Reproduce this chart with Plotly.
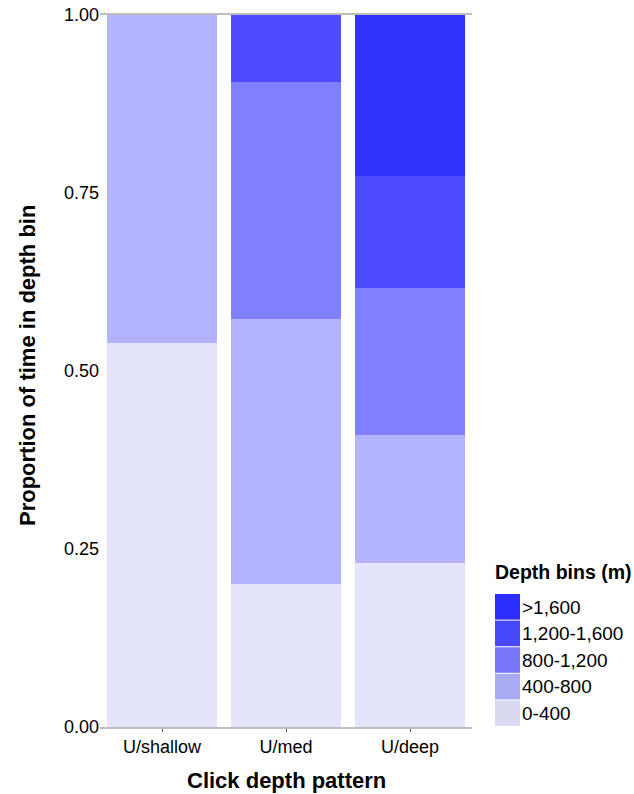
import plotly.graph_objects as go

categories = ["U/shallow", "U/med", "U/deep"]
bins = ["0-400", "400-800", "800-1,200", "1,200-1,600", ">1,600"]
colors = ["#e4e4fc", "#b3b3ff", "#8080ff", "#4d4dff", "#3232ff"]
legend_colors = ["#d9d9f2", "#aaaaf5", "#7878f8", "#4848fb", "#2d2dfb"]

v_0_400 = [0.539, 0.201, 0.230]
v_400_800 = [0.461, 0.372, 0.180]
v_800_1200 = [0.0, 0.333, 0.207]
v_1200_1600 = [0.0, 0.094, 0.157]
v_1600 = [0.0, 0.0, 0.226]
series = [v_0_400, v_400_800, v_800_1200, v_1200_1600, v_1600]

FONT = "Liberation Sans, Arial, sans-serif"

fig = go.Figure()
for name, vals, col in zip(bins, series, colors):
    fig.add_trace(go.Bar(x=categories, y=vals, name=name, marker_color=col,
                         marker_line_width=0, width=0.89, showlegend=False))

L, R, T, B = 100, 162, 15, 67
W, H = 634 - L - R, 794 - T - B
def px(x):
    return (x - L) / W
def py(y):
    return (794 - B - y) / H

shapes = []
annotations = []
# custom legend (large swatches)
annotations.append(dict(x=px(493), y=py(572), xref="paper", yref="paper",
                        text="<b>Depth bins (m)</b>", showarrow=False,
                        xanchor="left", yanchor="middle",
                        font=dict(family=FONT, size=19.5, color="#000")))
order = list(range(len(bins)))[::-1]
for i, k in enumerate(order):
    top = 594 + i * 26.6
    shapes.append(dict(type="rect", xref="paper", yref="paper",
                       x0=px(495), x1=px(520), y0=py(top), y1=py(top + 25.6),
                       fillcolor=legend_colors[k], line_width=0))
    annotations.append(dict(x=px(520), y=py(top + 13), xref="paper", yref="paper",
                            text=bins[k], showarrow=False, xanchor="left",
                            yanchor="middle",
                            font=dict(family=FONT, size=19, color="#000")))
# axis titles
annotations.append(dict(x=px(28), y=py(366), xref="paper", yref="paper",
                        text="<b>Proportion of time in depth bin</b>",
                        textangle=-90, showarrow=False, xanchor="center",
                        yanchor="middle", font=dict(family=FONT, size=22, color="#000")))
annotations.append(dict(x=0.5, y=py(780), xref="paper", yref="paper",
                        text="<b>Click depth pattern</b>", showarrow=False,
                        xanchor="center", yanchor="middle",
                        font=dict(family=FONT, size=22, color="#000")))

fig.update_layout(
    barmode="stack",
    width=634, height=794,
    margin=dict(l=L, r=R, t=T, b=B),
    plot_bgcolor="white", paper_bgcolor="white",
    font=dict(family=FONT, size=18, color="#000"),
    shapes=shapes, annotations=annotations,
    xaxis=dict(range=[-0.5, 2.5], showline=True, linecolor="#bdbdbd",
               linewidth=1.5, mirror=True, ticks="outside", ticklen=3,
               tickcolor="#555", tickfont=dict(size=18), automargin=False),
    yaxis=dict(range=[0, 1], tickvals=[0, 0.25, 0.5, 0.75, 1.0],
               tickformat=".2f", showgrid=False, zeroline=False,
               showline=False, ticks="", tickfont=dict(size=18),
               automargin=False),
)

fig.write_html("out.html")
